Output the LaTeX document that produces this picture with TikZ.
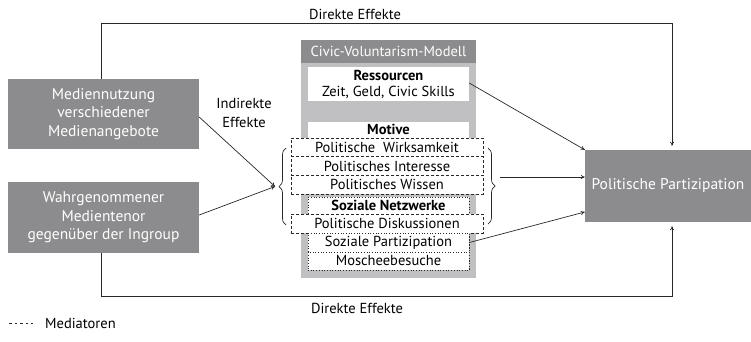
\documentclass[tikz,border=0pt]{standalone}
\usepackage{fontspec}
\setmainfont{PT Sans}
\usetikzlibrary{decorations.pathreplacing,arrows.meta}
\definecolor{boxgray}{RGB}{140,140,142}
\definecolor{lightgray}{RGB}{192,192,194}
\definecolor{linecol}{RGB}{40,40,40}
\tikzset{
  darkbox/.style={fill=boxgray,text=white,inner sep=0pt,align=center,font=\fontsize{15.5}{18.5}\selectfont},
  whitebox/.style={fill=white,inner sep=0pt,align=center,font=\fontsize{14.5}{16}\selectfont},
  medbox/.style={draw=linecol,dashed,dash pattern=on 3pt off 2pt,fill=white,line width=0.8pt,inner sep=0pt,minimum width=192pt,minimum height=19pt,font=\fontsize{14.5}{16}\selectfont},
  dotbox/.style={draw=linecol,dotted,line width=0.7pt,fill=white,inner sep=0pt,minimum width=161pt,font=\fontsize{14.5}{16}\selectfont},
  conn/.style={draw=linecol,line width=0.7pt},
  arr/.style={conn,-{To[length=4pt,width=4pt]}},
  lbl/.style={font=\fontsize{14.5}{19}\selectfont,inner sep=0pt,align=center},
}
\begin{document}
\begin{tikzpicture}[x=1pt,y=-1pt]
\useasboundingbox (0,0) rectangle (751,341);
% Civic-Voluntarism block
\node[fill=lightgray,minimum width=175pt,minimum height=238pt,inner sep=0pt] (cv) at (388.5,159) {};
\node[darkbox,minimum width=175pt,minimum height=23pt,font=\fontsize{14.5}{16}\selectfont] (cvh) at (388.5,51.5) {Civic-Voluntarism-Modell};
\node[whitebox,minimum width=161pt,minimum height=34pt] (res) at (388.5,84) {\textbf{Ressourcen}\\Zeit, Geld, Civic Skills};
\node[whitebox,minimum width=161pt,minimum height=72pt,anchor=north] (mot) at (388.5,122) {};
\node[lbl,font=\fontsize{14.5}{16}\selectfont\bfseries] (motl) at (388.5,129.5) {Motive};
\node[medbox] (pw) at (387,147.5) {Politische\ \ Wirksamkeit};
\node[medbox] (pi) at (387,166) {Politisches Interesse};
\node[medbox] (pwi) at (387,184.5) {Politisches Wissen};
\node[dotbox,minimum height=73pt,anchor=north] (sn) at (388.5,197) {};
\node[lbl,font=\fontsize{14.5}{16}\selectfont\bfseries] (snl) at (388.5,205.5) {Soziale Netzwerke};
\node[medbox] (pd) at (387,223.5) {Politische Diskussionen};
\node[dotbox,minimum height=19pt] (sp) at (388.5,242.5) {Soziale Partizipation};
\node[dotbox,minimum height=18pt] (mb) at (388.5,261) {Moscheebesuche};
% left boxes
\node[darkbox,minimum width=191pt,minimum height=70pt] (m1) at (103.5,114) {Mediennutzung\\verschiedener\\Medienangebote};
\node[darkbox,minimum width=191pt,minimum height=71pt] (m2) at (103.5,217.5) {Wahrgenommener\\Medientenor\\gegenüber der Ingroup};
% right box
\node[darkbox,minimum width=166pt,minimum height=72pt] (pp) at (668,186) {Politische Partizipation};
% braces
\draw[conn,decorate,decoration={brace,amplitude=7pt,raise=0pt}] (286,225) -- (286,148) coordinate[midway] (lbm);
\coordinate (lb) at (275,186.5);
\draw[conn,decorate,decoration={brace,amplitude=7pt,raise=0pt}] (488,148) -- (488,224) coordinate[midway] (rbm);
\coordinate (rb) at (500,177);
% indirect arrows
\draw[arr] (m1.east |- 117,117) -- (lb);
\draw[arr] (m2.east |- 215,215) -- (lb);
\node[lbl] (ind) at (244,113) {Indirekte\\Effekte};
\draw[arr] (res.east |- 83,83) -- (pp.north west);
\draw[arr] (rb) -- (rb -| pp.west);
\draw[arr] (sp.east) -- (pp.west |- 212,212);
% direct effects
\coordinate (tl) at (101,23);
\coordinate (tr) at (672,23);
\coordinate (bl) at (101,296);
\coordinate (br) at (672,296);
\draw[arr,shorten >=4pt] (m1.north -| tl) -- (tl) -- (tr) -- (pp.north -| tr);
\draw[arr,shorten >=4pt] (m2.south -| bl) -- (bl) -- (br) -- (pp.south -| br);
\node[lbl] (de1) at (355,14) {Direkte Effekte};
\node[lbl] (de2) at (357,308) {Direkte Effekte};
% legend
\coordinate (lg1) at (9,323);
\coordinate (lg2) at (33,323);
\draw[conn,dash pattern=on 2.5pt off 3pt] (lg1) -- (lg2);
\node[lbl,anchor=west] (lgt) at (45,323) {Mediatoren};
\end{tikzpicture}
\end{document}
